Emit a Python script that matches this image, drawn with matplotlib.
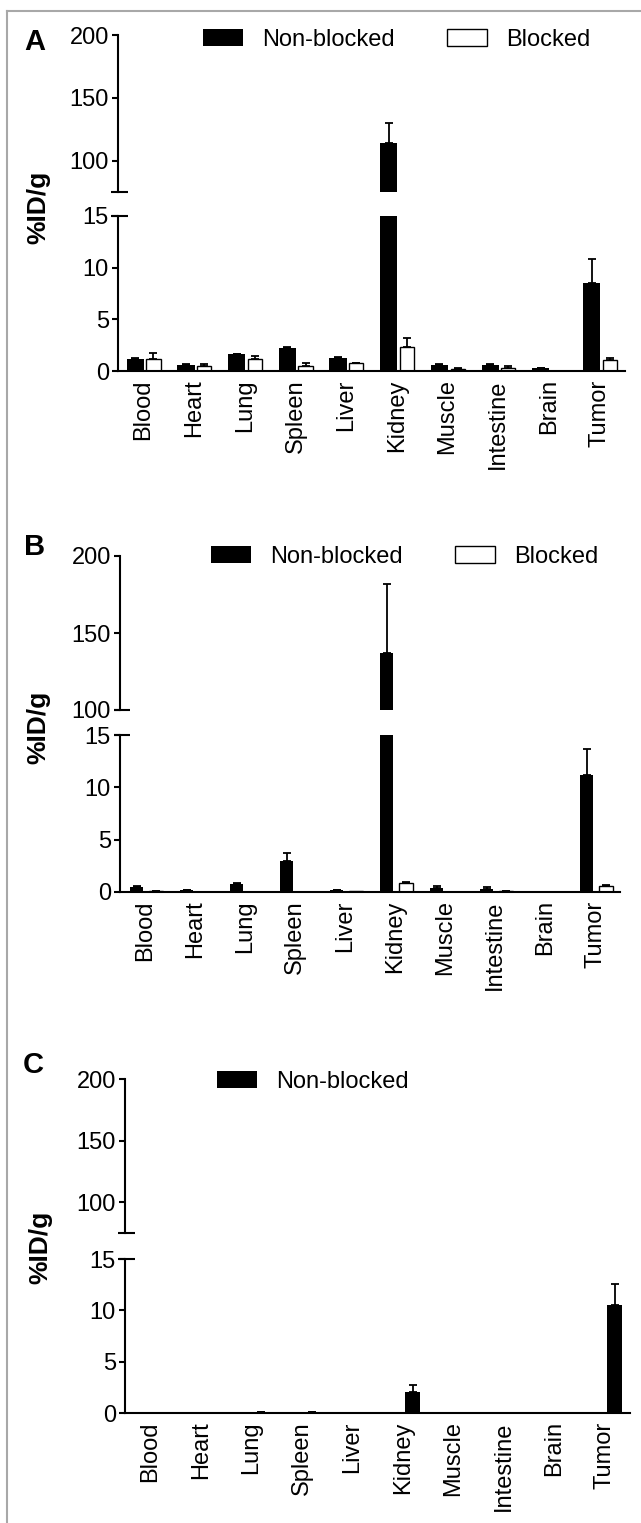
import matplotlib
matplotlib.use('Agg')
import matplotlib.pyplot as plt
import numpy as np
from matplotlib.lines import Line2D

plt.rcParams['font.family'] = ['Liberation Sans', 'DejaVu Sans']

organs = ['Blood', 'Heart', 'Lung', 'Spleen', 'Liver', 'Kidney', 'Muscle', 'Intestine', 'Brain', 'Tumor']

# panel A
a_nonblocked = [1.2, 0.62, 1.6, 2.25, 1.28, 114.0, 0.62, 0.62, 0.28, 8.5]
a_nonblocked_sd = [0.05, 0.04, 0.06, 0.05, 0.06, 16.0, 0.04, 0.05, 0.03, 2.3]
a_blocked = [1.2, 0.48, 1.12, 0.5, 0.74, 2.35, 0.22, 0.32, 0.0, 1.03]
a_blocked_sd = [0.55, 0.2, 0.33, 0.25, 0.06, 0.8, 0.08, 0.15, 0.0, 0.2]

# panel B
b_nonblocked = [0.48, 0.2, 0.8, 2.97, 0.2, 137.0, 0.41, 0.32, 0.0, 11.2]
b_nonblocked_sd = [0.05, 0.03, 0.1, 0.75, 0.03, 45.0, 0.13, 0.15, 0.0, 2.5]
b_blocked = [0.1, 0.02, 0.03, 0.03, 0.05, 0.86, 0.0, 0.1, 0.0, 0.57]
b_blocked_sd = [0.02, 0.0, 0.0, 0.0, 0.0, 0.1, 0.0, 0.03, 0.0, 0.1]

# panel C
c_nonblocked = [0.0, 0.0, 0.06, 0.06, 0.03, 2.07, 0.0, 0.0, 0.02, 10.5]
c_nonblocked_sd = [0.0, 0.0, 0.02, 0.02, 0.01, 0.63, 0.0, 0.0, 0.0, 2.1]

W, H = 641, 1523
fig = plt.figure(figsize=(W / 100, H / 100), dpi=100)

TICK_FS = 17
XLAB_FS = 17
LEG_FS = 17


def px_axes(left, right, top, bottom):
    return fig.add_axes([left / W, 1 - bottom / H, (right - left) / W, (bottom - top) / H])


def draw_bars(axes, x, vals, sds, offset, width, color):
    vals = np.array(vals)
    sds = np.array(sds)
    cont = None
    for ax in axes:
        lw = 0 if color == 'black' else 1.0
        cont = ax.bar(x + offset, vals, width, color=color, edgecolor='black', linewidth=lw, zorder=2)
        m = sds > 0
        ax.errorbar(x[m] + offset, vals[m], yerr=[np.zeros(m.sum()), sds[m]], fmt='none',
                    ecolor='black', elinewidth=1.3, capsize=3, capthick=1.3, zorder=3)
    return cont


def cap(ax, y):
    ax.plot([-0.013, 0.02], [y, y], transform=ax.get_yaxis_transform(), color='black',
            lw=1.5, clip_on=False, solid_capstyle='butt')


def panel(letter, left, right, top_top, top_bot, bot_top, bot_bot, top_min, series, legend_xy, letter_xy, ylab_xy):
    ax_t = px_axes(left, right, top_top, top_bot)
    ax_b = px_axes(left, right, bot_top, bot_bot)
    x = np.arange(len(organs))
    handles = []
    for vals, sds, off, wd, col, lab in series:
        c = draw_bars([ax_t, ax_b], x, vals, sds, off, wd, col)
        c.set_label(lab)
        handles.append(c)

    for ax in (ax_t, ax_b):
        ax.set_xlim(-0.5, 9.5)
        for s in ['top', 'right']:
            ax.spines[s].set_visible(False)
        ax.spines['left'].set_linewidth(1.5)
        ax.spines['bottom'].set_linewidth(1.5)
        ax.tick_params(axis='y', length=4.5, width=1.5, labelsize=TICK_FS, pad=2)

    ax_t.spines['bottom'].set_visible(False)
    ax_t.set_ylim(top_min, 200)
    ax_t.set_yticks([100, 150, 200])
    ax_t.set_xticks([])
    cap(ax_t, top_min)

    ax_b.set_ylim(0, 15)
    ax_b.set_yticks([0, 5, 10, 15])
    ax_b.set_xticks(x)
    ax_b.set_xticklabels(organs, rotation=90, fontsize=XLAB_FS)
    ax_b.tick_params(axis='x', length=0, pad=6)
    cap(ax_b, 15)

    ax_t.legend(handles=handles, loc='upper left',
                bbox_to_anchor=(legend_xy[0] / W, 1 - legend_xy[1] / H), bbox_transform=fig.transFigure,
                frameon=False, ncol=2, borderpad=0, borderaxespad=0, handlelength=1.7,
                handleheight=0.75, handletextpad=0.8, columnspacing=2.2, fontsize=LEG_FS)

    fig.text(letter_xy[0] / W, 1 - letter_xy[1] / H, letter, fontsize=21, fontweight='bold',
             ha='center', va='center')
    fig.text(ylab_xy[0] / W, 1 - ylab_xy[1] / H, '%ID/g', fontsize=19, fontweight='bold',
             rotation=90, ha='center', va='center')


panel('A', 118, 625, 35, 192, 216, 371, 75,
      [(a_nonblocked, a_nonblocked_sd, -0.16, 0.34, 'black', 'Non-blocked'),
       (a_blocked, a_blocked_sd, 0.2, 0.28, 'white', 'Blocked')],
      (203, 29), (35, 42), (38, 207))

panel('B', 120, 620, 556, 710, 735, 892, 100,
      [(b_nonblocked, b_nonblocked_sd, -0.17, 0.27, 'black', 'Non-blocked'),
       (b_blocked, b_blocked_sd, 0.21, 0.28, 'white', 'Blocked')],
      (211, 546), (35, 547), (38, 727))

panel('C', 125, 630, 1079, 1233, 1259, 1413, 75,
      [(c_nonblocked, c_nonblocked_sd, 0.2, 0.3, 'black', 'Non-blocked')],
      (217, 1071), (33, 1065), (40, 1247))

# grey frame around the figure panel
fig.add_artist(Line2D([7 / W, 1.0], [1 - 11 / H, 1 - 11 / H], color='#a8a8a8', lw=1.5))
fig.add_artist(Line2D([7 / W, 7 / W], [0.0, 1 - 11 / H], color='#a8a8a8', lw=1.5))

fig.savefig('out.png', dpi=100, facecolor='white')
